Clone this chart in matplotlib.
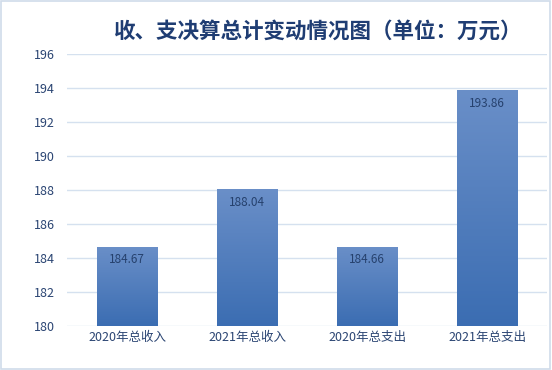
import matplotlib.pyplot as plt
import numpy as np
from matplotlib.colors import LinearSegmentedColormap
from matplotlib.patches import Rectangle

plt.rcParams['font.family'] = ['Noto Sans CJK SC', 'DejaVu Sans']

categories = ['2020年总收入', '2021年总收入', '2020年总支出', '2021年总支出']
values = [184.67, 188.04, 184.66, 193.86]
yticks = [180, 182, 184, 186, 188, 190, 192, 194, 196]

fig = plt.figure(figsize=(5.52, 3.7), dpi=100)
ax = fig.add_axes([0.1214, 0.119, 0.8696, 0.735])

# 外框
fig.patches.append(Rectangle((0.002, 0.003), 0.995, 0.994, transform=fig.transFigure,
                             fill=False, edgecolor='#d0dcea', linewidth=1.2))

x = np.arange(len(categories))
bars = ax.bar(x, [v - 180 for v in values], width=0.5, bottom=180, color='none')

# 渐变填充
cmap = LinearSegmentedColormap.from_list('g', ['#3b6db2', '#6a8fc8'])
grad = np.linspace(0, 1, 256).reshape(-1, 1)
for b, v in zip(bars, values):
    x0 = b.get_x()
    im = ax.imshow(grad, cmap=cmap, aspect='auto', origin='lower',
                   extent=[x0, x0 + b.get_width(), 180, v], zorder=2)
    im.set_clip_path(b)
    ax.text(b.get_x() + b.get_width() / 2, v - 0.75, f'{v:.2f}', ha='center', va='center',
            fontsize=8.5, color='#26416d', zorder=3)

ax.set_xlim(-0.5, len(categories) - 0.5)
ax.set_ylim(180, 196)
ax.set_yticks(yticks)
ax.set_xticks(x)
ax.set_xticklabels(categories)
ax.grid(axis='y', color='#d5e1ef', linewidth=1)
ax.set_axisbelow(True)
for s in ax.spines.values():
    s.set_visible(False)
ax.tick_params(length=0, labelsize=9, labelcolor='#2b4573')
ax.tick_params(axis='y', pad=9)

fig.text(0.577, 0.915, '收、支决算总计变动情况图（单位：万元）', ha='center', va='center',
         fontsize=15.5, fontweight='bold', color='#1f3d73')

fig.savefig('out.png', dpi=100)
